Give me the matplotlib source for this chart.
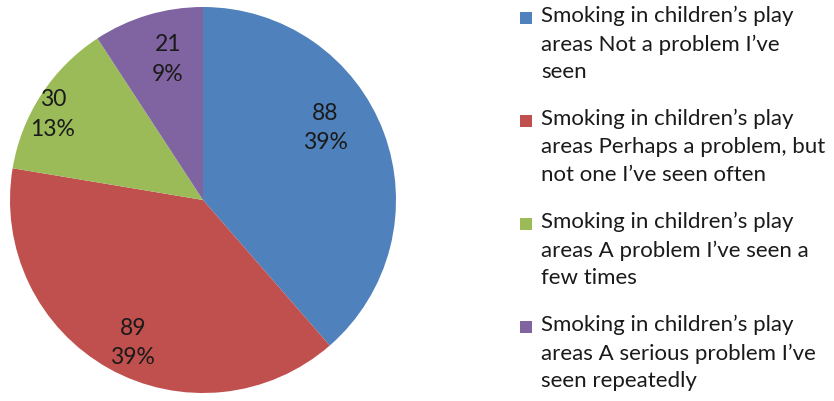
"""Pie chart: smoking in children's play areas survey."""
import numpy as np
import matplotlib.pyplot as plt
from matplotlib.patches import Rectangle

plt.rcParams['font.family'] = ['Lato', 'DejaVu Sans']

labels = [
    "Smoking in children\u2019s play\nareas Not a problem I\u2019ve\nseen",
    "Smoking in children\u2019s play\nareas Perhaps a problem, but\nnot one I\u2019ve seen often",
    "Smoking in children\u2019s play\nareas A problem I\u2019ve seen a\nfew times",
    "Smoking in children\u2019s play\nareas A serious problem I\u2019ve\nseen repeatedly",
]
counts = [88, 89, 30, 21]
colors = ['#4F81BD', '#C0504D', '#9BBB59', '#8064A2']

# label placement tweaks (radius fraction, angle shift in degrees)
label_r = [0.735, 0.825, 0.895, 0.75]
label_shift = [10, 3, 3.5, -2.6]

fig = plt.figure(figsize=(8.34, 4.01), dpi=100)
ax = fig.add_axes([10 / 834, 8 / 401, 386 / 834, 386 / 401])
wedges, _ = ax.pie(counts, colors=colors, startangle=90, counterclock=False,
                   radius=1, wedgeprops=dict(linewidth=0))
ax.set_xlim(-1, 1)
ax.set_ylim(-1, 1)
ax.set_aspect('equal')

total = sum(counts)
for w, n, r, s in zip(wedges, counts, label_r, label_shift):
    ang = np.deg2rad((w.theta1 + w.theta2) / 2 + s)
    pct = round(100 * n / total)
    ax.text(r * np.cos(ang), r * np.sin(ang), f"{n}\n{pct}%",
            ha='center', va='center', fontsize=16.5, color='#1a1a1a',
            linespacing=1.5)

# legend drawn by hand to match the wrapped layout
y0 = 18
for i, (lab, c) in enumerate(zip(labels, colors)):
    y = y0 + i * 103
    fig.patches.append(Rectangle((520 / 834, 1 - (y + 6) / 401), 12 / 834, 12 / 401,
                                 transform=fig.transFigure, facecolor=c,
                                 edgecolor='none'))
    fig.text(541 / 834, 1 - (y - 12) / 401, lab, ha='left', va='top',
             fontsize=16, color='#1a1a1a', linespacing=1.48)

fig.savefig('out.png', dpi=100)
